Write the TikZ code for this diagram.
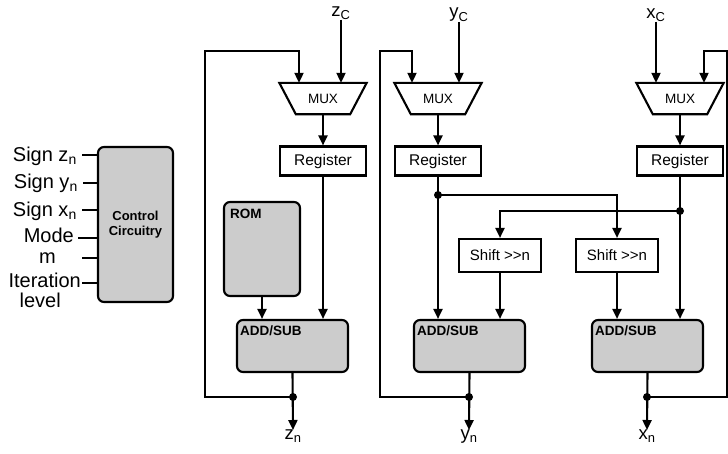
\documentclass[tikz,border=0pt]{standalone}
\usepackage{fontspec}
\setmainfont{Liberation Sans}
\usetikzlibrary{arrows.meta}
\definecolor{blockgray}{RGB}{204,204,204}

\tikzset{
  wire/.style={line width=2.1pt},
  arr/.style={wire, -{Triangle[length=10pt,width=9pt]}},
  junction/.style={circle, fill=black, inner sep=0pt, minimum size=8pt},
  whitebox/.style={draw, line width=2.1pt, fill=white, inner sep=0pt},
  regbox/.style={whitebox, minimum width=86pt, minimum height=29pt, font=\fontsize{15.5}{18}\selectfont},
  shiftbox/.style={whitebox, minimum width=82pt, minimum height=33pt, font=\fontsize{15}{17}\selectfont},
  muxbody/.style={minimum width=87pt, minimum height=31pt, inner sep=0pt, font=\fontsize{13.5}{15}\selectfont},
  grayblock/.style={draw, line width=2.1pt, fill=blockgray, rounded corners=6pt, inner sep=0pt},
  blocktag/.style={anchor=north west, inner sep=0pt, font=\bfseries\fontsize{13.5}{15}\selectfont},
  pinlabel/.style={anchor=base east, inner sep=0pt, font=\fontsize{20}{24}\selectfont},
  siglabel/.style={inner sep=0pt, font=\fontsize{18.5}{22}\selectfont},
}

\begin{document}
\begin{tikzpicture}[x=1pt, y=-1pt]
\path[use as bounding box] (0,0) rectangle (728,453);

% ---------- control unit ----------
\node[grayblock, minimum width=75pt, minimum height=155pt, align=center,
      font=\bfseries\fontsize{13}{14.5}\selectfont] (ctrl) at (135.5,224.5) {Control\\Circuitry};

\node[pinlabel] (lsz) at (77,161) {Sign z\textsubscript{n}};
\node[pinlabel] (lsy) at (78,188) {Sign y\textsubscript{n}};
\node[pinlabel] (lsx) at (77,216) {Sign x\textsubscript{n}};
\node[pinlabel] (lmode) at (74,242) {Mode};
\node[pinlabel] (lm) at (56,263) {m};
\node[pinlabel] (lit) at (81,287) {Iteration};
\node[pinlabel] (llev) at (61,307) {level};

\coordinate (psz) at (82,155);
\coordinate (psy) at (83,183);
\coordinate (psx) at (82,210);
\coordinate (pmode) at (78,238);
\coordinate (pm) at (82,258);
\coordinate (pit) at (82,283);
\foreach \p in {psz,psy,psx,pmode,pm,pit}
  \draw[wire] (\p) -- (\p -| ctrl.west);

% ---------- z path ----------
\node[muxbody] (mux1) at (323,98.5) {MUX};
\draw[wire] (mux1.north west) -- (mux1.north east) -- ([xshift=-16.5pt]mux1.south east)
  -- ([xshift=16.5pt]mux1.south west) -- cycle;
\node[regbox] (reg1) at (323,161) {Register};
\node[grayblock, minimum width=76pt, minimum height=94pt] (rom) at (262,249) {};
\node[blocktag] (romtag) at ([shift={(7pt,-8pt)}]rom.north west) {ROM};
\node[grayblock, minimum width=111pt, minimum height=52pt] (add1) at (292.5,346) {};
\node[blocktag] (add1tag) at ([shift={(4pt,-7pt)}]add1.north west) {ADD/SUB};

\node[siglabel] (zc) at (341,13) {z\textsubscript{C}};
\node[siglabel, anchor=north] (zn) at (293,430) {z\textsubscript{n}};
\coordinate (m1a) at ([xshift=-24pt]mux1.north);
\coordinate (m1b) at ([xshift=18pt]mux1.north);
\coordinate (fb1) at (205,51);
\coordinate (d1) at (293,397);

\draw[arr] (zc.south) -- (m1b);
\draw[arr] (mux1.south) -- (reg1.north);
\draw[arr] (reg1.south) -- (reg1.south |- add1.north);
\draw[arr] (rom.south) -- (rom.south |- add1.north);
\draw[arr] (add1.south) -- (zn.north);
\draw[arr] (d1) -| (fb1) -| (m1a);
\node[junction] at (d1) {};

% ---------- y path ----------
\node[muxbody] (mux2) at (438,98.5) {MUX};
\draw[wire] (mux2.north west) -- (mux2.north east) -- ([xshift=-16.5pt]mux2.south east)
  -- ([xshift=16.5pt]mux2.south west) -- cycle;
\node[regbox] (reg2) at (438,161) {Register};
\node[shiftbox] (sh1) at (500,255.5) {Shift >{}>n};
\node[grayblock, minimum width=111pt, minimum height=52pt] (add2) at (469.5,346) {};
\node[blocktag] (add2tag) at ([shift={(4pt,-7pt)}]add2.north west) {ADD/SUB};

\node[siglabel] (yc) at (459,15) {y\textsubscript{C}};
\node[siglabel, anchor=north] (yn) at (469,430) {y\textsubscript{n}};
\coordinate (m2a) at ([xshift=-26pt]mux2.north);
\coordinate (m2b) at ([xshift=21pt]mux2.north);
\coordinate (fb2) at (380,51);
\coordinate (d2) at (469,397);
\coordinate (t2) at (438,195);

% ---------- x path ----------
\node[muxbody] (mux3) at (680,98.5) {MUX};
\draw[wire] (mux3.north west) -- (mux3.north east) -- ([xshift=-16.5pt]mux3.south east)
  -- ([xshift=16.5pt]mux3.south west) -- cycle;
\node[regbox] (reg3) at (680,161) {Register};
\node[shiftbox] (sh2) at (617,255.5) {Shift >{}>n};
\node[grayblock, minimum width=111pt, minimum height=52pt] (add3) at (647.5,346) {};
\node[blocktag] (add3tag) at ([shift={(4pt,-7pt)}]add3.north west) {ADD/SUB};

\node[siglabel] (xc) at (656,15) {x\textsubscript{C}};
\node[siglabel, anchor=north] (xn) at (647,430) {x\textsubscript{n}};
\coordinate (m3a) at ([xshift=-24pt]mux3.north);
\coordinate (m3b) at ([xshift=24pt]mux3.north);
\coordinate (fb3) at (727,51);
\coordinate (d3) at (647,397);
\coordinate (t3) at (680,211);

% y connections
\draw[arr] (yc.south) -- (m2b);
\draw[arr] (mux2.south) -- (reg2.north);
\draw[arr] (reg2.south) -- (reg2.south |- add2.north);
\draw[arr] (t2) -| (sh2.north);
\draw[arr] (sh1.south) -- (sh1.south |- add2.north);
\draw[arr] (add2.south) -- (yn.north);
\draw[arr] (d2) -| (fb2) -| (m2a);

% x connections
\draw[arr] (xc.south) -- (m3a);
\draw[arr] (mux3.south) -- (reg3.north);
\draw[arr] (reg3.south) -- (reg3.south |- add3.north);
\draw[arr] (t3) -| (sh1.north);
\draw[arr] (sh2.south) -- (sh2.south |- add3.north);
\draw[arr] (add3.south) -- (xn.north);
\draw[arr] (d3) -| (fb3) -| (m3b);

\foreach \j in {t2,t3,d2,d3}
  \node[junction] at (\j) {};
\end{tikzpicture}
\end{document}
